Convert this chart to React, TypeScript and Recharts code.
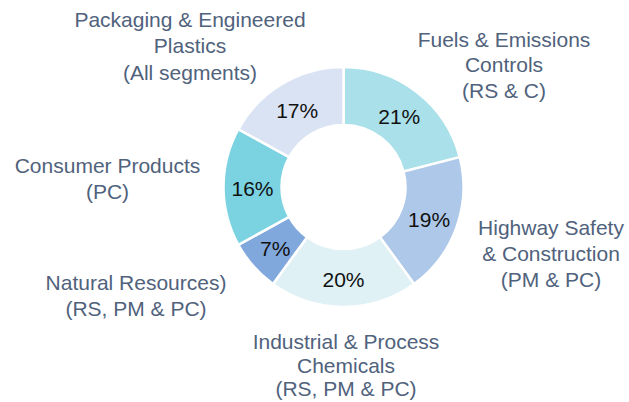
import React from "react";
import { PieChart, Pie, Cell } from "recharts";

const segmentNames = [
  "Fuels & Emissions|Controls|(RS & C)",
  "Highway Safety|& Construction|(PM & PC)",
  "Industrial & Process|Chemicals|(RS, PM & PC)",
  "Natural Resources)|(RS, PM & PC)",
  "Consumer Products|(PC)",
  "Packaging & Engineered|Plastics|(All segments)",
];
const segmentShares = [21, 19, 20, 7, 16, 17];
const segmentColors = ["#a9e0ea", "#adc8e8", "#dff1f5", "#80a8dc", "#7bd2e1", "#dae3f3"];

// label block layout: offset of first baseline relative to pie centre, line height
const labelOffsets = [
  [160.5, -140.5, 25.5],
  [207.5, 48, 26],
  [2.5, 162, 23.5],
  [-207.5, 103, 26],
  [-236, -14.5, 26],
  [-153.5, -160.5, 26.5],
];

const data = segmentNames.map((name, i) => ({ name, value: segmentShares[i] }));

const FONT = "'Liberation Sans', Arial, sans-serif";
const RAD = Math.PI / 180;

const renderLabel = (props: any) => {
  const { cx, cy, midAngle, innerRadius, outerRadius, index, value, name } = props;
  const r = (innerRadius + outerRadius) / 2;
  const px = cx + r * Math.cos(-midAngle * RAD);
  const py = cy + r * Math.sin(-midAngle * RAD);
  const [dx, dy, lh] = labelOffsets[index];
  const lines = String(name).split("|");
  return (
    <g>
      <text
        x={px}
        y={py + 1.5}
        textAnchor="middle"
        dominantBaseline="central"
        fill="#111"
        fontSize={21}
        fontFamily={FONT}
      >
        {value}%
      </text>
      <text
        x={cx + dx}
        y={cy + dy}
        textAnchor="middle"
        fill="#50627c"
        fontSize={21}
        fontFamily={FONT}
      >
        {lines.map((l, k) => (
          <tspan key={k} x={cx + dx} dy={k === 0 ? 0 : lh}>
            {l}
          </tspan>
        ))}
      </text>
    </g>
  );
};

export default function App() {
  return (
    <div style={{ position: "absolute", left: 0, top: 0, width: 629, height: 402, background: "#fff" }}>
      <PieChart width={629} height={402} margin={{ top: 0, right: 0, bottom: 0, left: 0 }}>
        <Pie
          data={data}
          dataKey="value"
          nameKey="name"
          cx={343.5}
          cy={187}
          innerRadius={62}
          outerRadius={120}
          startAngle={90}
          endAngle={-270}
          stroke="#ffffff"
          strokeWidth={2.5}
          label={renderLabel}
          labelLine={false}
          isAnimationActive={false}
        >
          {data.map((d, i) => (
            <Cell key={d.name} fill={segmentColors[i]} />
          ))}
        </Pie>
      </PieChart>
    </div>
  );
}
